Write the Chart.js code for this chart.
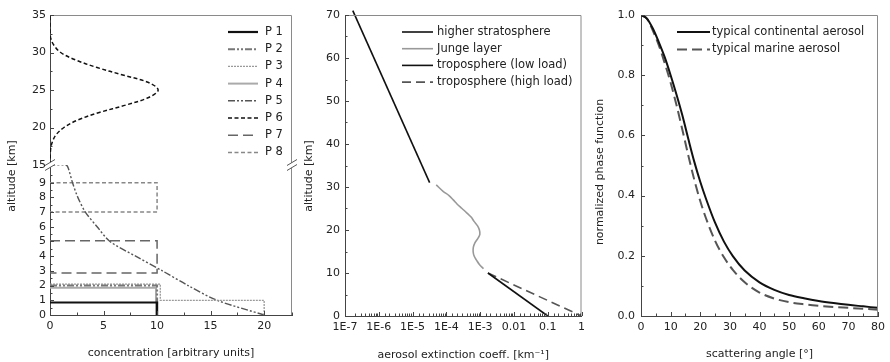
<!DOCTYPE html>
<html>
<head>
<meta charset="utf-8">
<script src="https://cdn.jsdelivr.net/npm/chart.js@4.4.1/dist/chart.umd.min.js"></script>
<style>
  body { margin: 0; background: #fff; }
  canvas { position: absolute; top: 0; }
</style>
</head>
<body>
<canvas id="c1" width="300" height="362" style="left:0px"></canvas>
<canvas id="c2" width="300" height="362" style="left:290px"></canvas>
<canvas id="c3" width="300" height="362" style="left:590px"></canvas>
<script>
// ---- panel 1: concentration profiles (conc, altitude km)
const p1Conc = [0, 10, 10];
const p1Alt  = [0.85, 0.85, 0];
const p2Conc = [0, 10, 10];
const p2Alt  = [2.0, 2.0, 0];
const p3Conc = [0, 10.3, 10.3, 20, 20];
const p3Alt  = [2.1, 2.1, 1.0, 1.0, 0];
const p4Conc = [0, 9.9, 9.9];
const p4Alt  = [1.85, 1.85, 0];
const p5Conc = [20, 15.6, 12.9, 10.5, 8.0, 5.6, 4.4, 3.3, 2.6, 2.1, 1.7, 1.5, 0];
const p5Alt  = [0, 1, 2, 3, 4, 5, 6, 7, 8, 9, 10, 10.2, 10.2];
const p6Conc = [0, 0.05, 0.2, 0.55, 1.3, 2.6, 4.6, 7.1, 9.2, 10.1, 9.2, 6.8, 4.4, 2.4, 1.0, 0.35, 0.05, 0, 0];
const p6Alt  = [15, 17, 18, 19, 20, 21, 22, 23, 24, 25, 26, 27, 28, 29, 30, 31, 32, 33, 35];
const p7Conc = [0, 10, 10, 0];
const p7Alt  = [5.05, 5.05, 2.85, 2.85];
const p8Conc = [0, 10, 10, 0];
const p8Alt  = [9, 9, 7, 7];

// ---- panel 2: extinction profiles (km^-1, altitude km)
const hsExt = [3.2e-5, 1.7e-7];
const hsAlt = [31, 71];
const jungeExt = [5e-5, 8e-5, 1.2e-4, 1.6e-4, 2.1e-4, 2.9e-4, 4e-4, 5.4e-4, 6.6e-4, 8.3e-4,
                  9.5e-4, 9.8e-4, 8.5e-4, 7e-4, 6.3e-4, 6.2e-4, 6.6e-4, 7.8e-4, 9.5e-4, 1.25e-3];
const jungeAlt = [30.5, 29, 28, 27, 26, 25, 24, 23, 22, 21, 20, 19, 18, 17, 16, 15, 14, 13, 12, 11];
const lowExt  = [1.7e-3, 0.1];
const lowAlt  = [10, 0];
const highExt = [1.7e-3, 1];
const highAlt = [10, 0];

// ---- panel 3: phase functions
const angles = [0, 2, 4, 6, 8, 10, 12, 14, 16, 18, 20, 22, 25, 28, 31, 35, 40, 45, 50, 55, 60, 65, 70, 75, 80];
const continental = [1.0, 0.988, 0.955, 0.91, 0.86, 0.80, 0.735, 0.665, 0.587, 0.512, 0.446, 0.388, 0.31,
                     0.247, 0.199, 0.151, 0.112, 0.087, 0.07, 0.059, 0.05, 0.043, 0.037, 0.032, 0.027];
const marine = [1.0, 0.988, 0.948, 0.9, 0.84, 0.775, 0.70, 0.617, 0.532, 0.452, 0.382, 0.323, 0.25,
                0.195, 0.153, 0.112, 0.078, 0.058, 0.046, 0.039, 0.034, 0.03, 0.027, 0.024, 0.021];

const FONT = '"DejaVu Sans", sans-serif';
Chart.defaults.font.family = FONT;
Chart.defaults.font.size = 11;
Chart.defaults.color = '#222';
Chart.defaults.animation = false;

const pts = (xs, ys) => xs.map((x, i) => ({ x: x, y: ys[i] }));

function line(label, xs, ys, color, width, dash, yAxis, extra) {
  return Object.assign({
    label: label, data: pts(xs, ys), borderColor: color, borderWidth: width,
    borderDash: dash, showLine: true, pointRadius: 0, tension: 0, yAxisID: yAxis || 'y'
  }, extra || {});
}

// frame, inward ticks, breaks, legend and y title
const decor = {
  id: 'decor',
  afterDatasetsDraw(chart, args, o) {
    const { ctx, chartArea: a } = chart;
    ctx.save();
    ctx.setLineDash([]);
    ctx.lineWidth = 1;
    ctx.strokeStyle = '#8a8a8a';
    ctx.beginPath();
    ctx.moveTo(a.left, a.top + 0.5);
    ctx.lineTo(a.right - 0.5, a.top + 0.5);
    ctx.lineTo(a.right - 0.5, a.bottom);
    ctx.stroke();

    ctx.strokeStyle = '#444';
    Object.values(chart.scales).forEach(s => {
      s.ticks.forEach(t => {
        const len = t.label !== '' ? 4 : 2.5;
        const p = Math.round(s.getPixelForValue(t.value)) + 0.5;
        ctx.beginPath();
        if (s.isHorizontal()) { ctx.moveTo(p, a.bottom); ctx.lineTo(p, a.bottom - len); }
        else { ctx.moveTo(a.left, p); ctx.lineTo(a.left + len, p); }
        ctx.stroke();
      });
    });

    if (o.breakScale) {
      const y = chart.scales[o.breakScale].bottom;
      [a.left, a.right].forEach(x => {
        ctx.fillStyle = '#fff';
        ctx.beginPath();
        ctx.moveTo(x - 5, y + 5.5); ctx.lineTo(x + 5, y - 0.5);
        ctx.lineTo(x + 5, y - 5.5); ctx.lineTo(x - 5, y + 0.5);
        ctx.closePath(); ctx.fill();
        ctx.strokeStyle = '#555';
        ctx.beginPath();
        ctx.moveTo(x - 5, y + 5.5); ctx.lineTo(x + 5, y - 0.5);
        ctx.moveTo(x - 5, y + 0.5); ctx.lineTo(x + 5, y - 5.5);
        ctx.stroke();
      });
    }

    const L = o.legend;
    ctx.font = '11.5px ' + FONT;
    ctx.textBaseline = 'middle';
    chart.data.datasets.forEach((ds, i) => {
      const y = L.y + i * L.dy;
      ctx.strokeStyle = ds.borderColor;
      ctx.lineWidth = ds.borderWidth;
      ctx.setLineDash(ds.borderDash || []);
      ctx.beginPath(); ctx.moveTo(L.x, y); ctx.lineTo(L.x + L.len, y); ctx.stroke();
      ctx.fillStyle = '#222';
      ctx.fillText(ds.label, L.x + L.len + L.gap, y);
    });

    const T = o.yTitle;
    ctx.font = '11px ' + FONT;
    ctx.translate(T.x, T.y);
    ctx.rotate(-Math.PI / 2);
    ctx.textAlign = 'center';
    ctx.fillStyle = '#222';
    ctx.fillText(T.text, 0, 0);
    ctx.restore();
  }
};

const fitW = w => (s => { s.width = w; });
const fitH = h => (s => { s.height = h; });
const border = { color: '#444', width: 1 };
const noGrid = { display: true, drawOnChartArea: false, drawTicks: false };

// ---- chart 1
new Chart(document.getElementById('c1'), {
  type: 'scatter',
  data: { datasets: [
    line('P 1', p1Conc, p1Alt, '#111', 2.2, [], 'yLow'),
    line('P 2', p2Conc, p2Alt, '#777', 2, [7, 2, 2, 2, 2, 2], 'yLow'),
    line('P 3', p3Conc, p3Alt, '#9a9a9a', 1.3, [2, 1], 'yLow'),
    line('P 4', p4Conc, p4Alt, '#aaa', 2, [], 'yLow'),
    line('P 5', p5Conc, p5Alt, '#555', 1.4, [7, 2, 2, 2, 2, 2], 'yLow', { tension: 0.3 }),
    line('P 6', p6Conc, p6Alt, '#111', 1.5, [4, 2.5], 'yHigh', { tension: 0.35 }),
    line('P 7', p7Conc, p7Alt, '#666', 1.5, [10, 5], 'yLow'),
    line('P 8', p8Conc, p8Alt, '#888', 1.5, [4, 2.5], 'yLow')
  ] },
  options: {
    responsive: false,
    layout: { padding: { left: 0, top: 15, right: 8, bottom: 0 } },
    plugins: {
      legend: { display: false }, tooltip: { enabled: false },
      decor: { breakScale: 'yHigh',
               legend: { x: 228, y: 32, dy: 17.2, len: 30, gap: 7 },
               yTitle: { text: 'altitude [km]', x: 12, y: 176 } }
    },
    scales: {
      x: { type: 'linear', position: 'bottom', min: 0, max: 22.6, afterFit: fitH(47),
           grid: noGrid, border: border,
           ticks: { stepSize: 2.5, autoSkip: false, maxRotation: 0, padding: 5,
                    callback: v => (v % 5 === 0 ? String(v) : '') },
           title: { display: true, text: 'concentration [arbitrary units]', padding: { top: 0, bottom: 2 } } },
      // left axes stack: the later one is placed on top
      yLow: { type: 'linear', position: 'left', stack: 'alt', stackWeight: 1, min: 0, max: 10.2,
              afterFit: fitW(50), grid: noGrid, border: border,
              ticks: { stepSize: 0.5, autoSkip: false, padding: 4,
                       callback: v => (Number.isInteger(v) && v <= 9 ? String(v) : '') } },
      yHigh: { type: 'linear', position: 'left', stack: 'alt', stackWeight: 1, min: 15, max: 35,
               afterFit: fitW(50), grid: noGrid, border: border,
               ticks: { stepSize: 2.5, autoSkip: false, padding: 4,
                        callback: v => (v % 5 === 0 ? String(v) : '') } }
    }
  },
  plugins: [decor]
});

// ---- chart 2
const expLabel = { '-7': '1E-7', '-6': '1E-6', '-5': '1E-5', '-4': '1E-4', '-3': '1E-3', '-2': '0.01', '-1': '0.1', '0': '1' };
new Chart(document.getElementById('c2'), {
  type: 'scatter',
  data: { datasets: [
    line('higher stratosphere', hsExt, hsAlt, '#111', 1.6, [], 'y', { clip: false }),
    line('Junge layer', jungeExt, jungeAlt, '#999', 1.6, [], 'y', { tension: 0.4 }),
    line('troposphere (low load)', lowExt, lowAlt, '#111', 1.6, []),
    line('troposphere (high load)', highExt, highAlt, '#555', 1.6, [9, 5])
  ] },
  options: {
    responsive: false,
    layout: { padding: { left: 0, top: 15, right: 4, bottom: 0 } },
    plugins: {
      legend: { display: false }, tooltip: { enabled: false },
      decor: { legend: { x: 112, y: 32, dy: 16.7, len: 31, gap: 4 },
               yTitle: { text: 'altitude [km]', x: 19, y: 176 } }
    },
    scales: {
      x: { type: 'logarithmic', position: 'bottom', min: 1e-7, max: 1, afterFit: fitH(46),
           grid: noGrid, border: border,
           ticks: { autoSkip: false, maxRotation: 0, padding: 5,
                    callback: v => {
                      const e = Math.log10(v);
                      return Math.abs(e - Math.round(e)) < 1e-6 ? expLabel[String(Math.round(e))] : '';
                    } },
           title: { display: true, text: 'aerosol extinction coeff. [km⁻¹]', padding: { top: 0, bottom: 0 } } },
      y: { type: 'linear', position: 'left', min: 0, max: 70, afterFit: fitW(55),
           grid: noGrid, border: border,
           ticks: { stepSize: 5, autoSkip: false, padding: 5,
                    callback: v => (v % 10 === 0 ? String(v) : '') } }
    }
  },
  plugins: [decor]
});

// ---- chart 3
new Chart(document.getElementById('c3'), {
  type: 'scatter',
  data: { datasets: [
    line('typical continental aerosol', angles, continental, '#111', 2, [], 'y', { cubicInterpolationMode: 'monotone' }),
    line('typical marine aerosol', angles, marine, '#555', 2, [10, 5], 'y', { cubicInterpolationMode: 'monotone' })
  ] },
  options: {
    responsive: false,
    layout: { padding: { left: 0, top: 15, right: 9, bottom: 0 } },
    plugins: {
      legend: { display: false }, tooltip: { enabled: false },
      decor: { legend: { x: 87, y: 32, dy: 17.5, len: 33, gap: 2 },
               yTitle: { text: 'normalized phase function', x: 10, y: 172 } }
    },
    scales: {
      x: { type: 'linear', position: 'bottom', min: 0, max: 80, afterFit: fitH(46),
           grid: noGrid, border: border,
           ticks: { stepSize: 5, autoSkip: false, maxRotation: 0, padding: 5,
                    callback: v => (v % 10 === 0 ? String(v) : '') },
           title: { display: true, text: 'scattering angle [°]', padding: { top: 0, bottom: 1 } } },
      y: { type: 'linear', position: 'left', min: 0, max: 1, afterFit: fitW(51),
           grid: noGrid, border: border,
           ticks: { stepSize: 0.1, autoSkip: false, padding: 6,
                    callback: v => (Math.round(v * 10) % 2 === 0 ? v.toFixed(1) : '') } }
    }
  },
  plugins: [decor]
});
</script>
</body>
</html>
